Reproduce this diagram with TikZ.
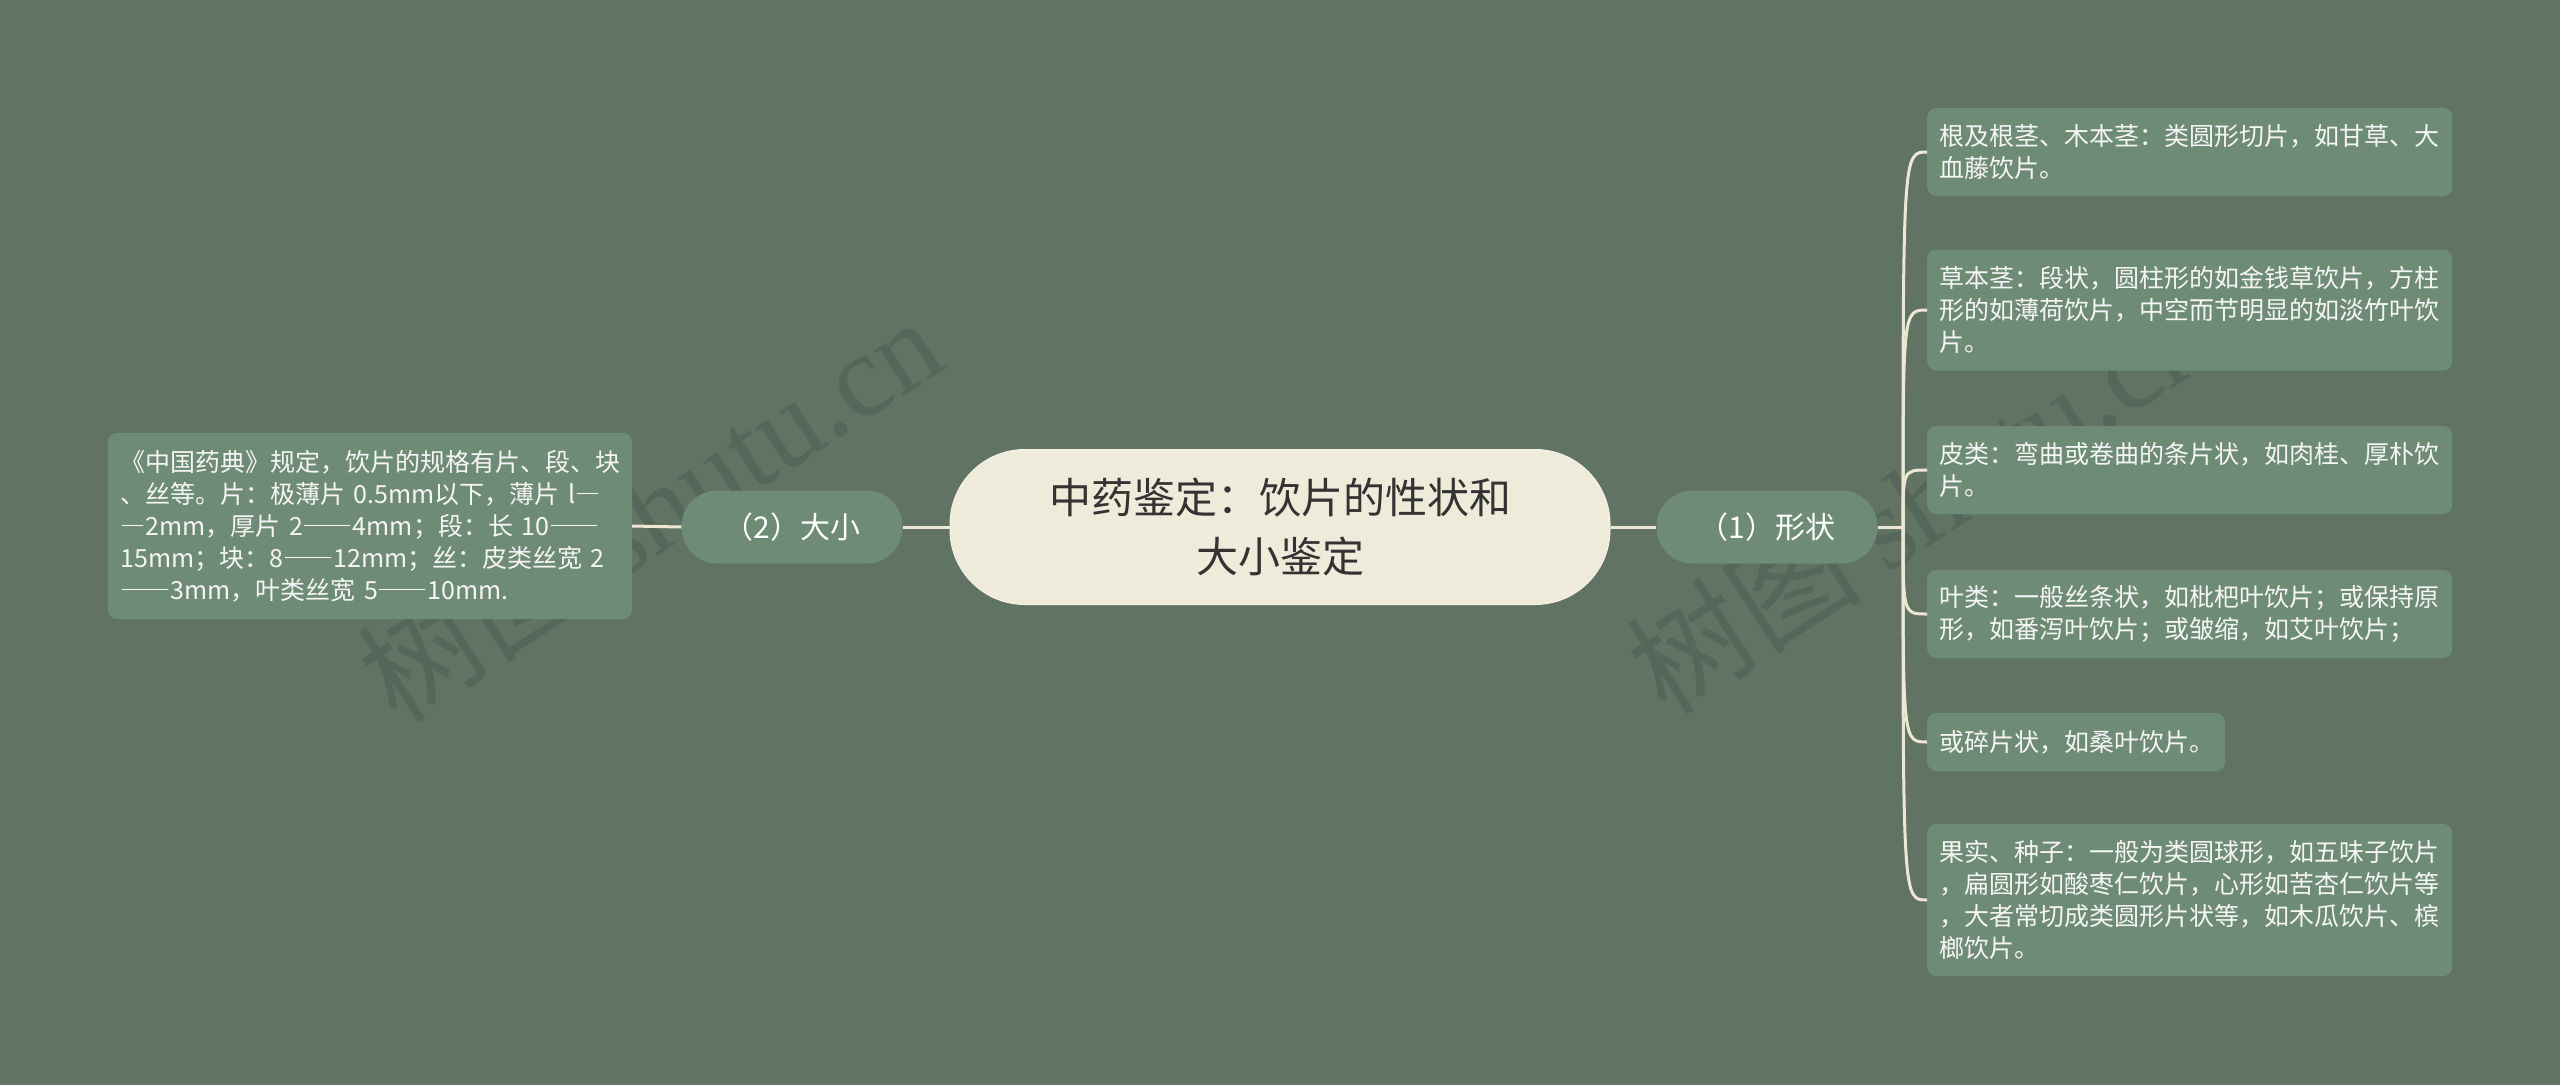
\documentclass[tikz,border=0pt]{standalone}
\usepackage{fontspec}
\setmainfont{Noto Sans CJK SC}
\newfontfamily\markfont{Liberation Serif}
\newcommand\fwd[1]{{\addfontfeature{RawFeature=+fwid}#1}}
\definecolor{bgcol}{HTML}{617463}
\definecolor{leafcol}{HTML}{6E8B75}
\definecolor{titlecol}{HTML}{EFEBDA}
\definecolor{linecol}{HTML}{EDE8D3}
\definecolor{markcol}{HTML}{55665A}

\begin{document}
\begin{tikzpicture}[x=1pt,y=-1pt,
  title/.style={fill=titlecol,draw=titlecol!60!white,line width=1pt,rounded corners=75pt,
    minimum width=660pt,minimum height=155pt,align=center,text=black!80,
    font=\fontsize{42}{59}\selectfont},
  branch/.style={fill=leafcol,rounded corners=36pt,minimum width=221pt,minimum height=73pt,
    text=white,font=\fontsize{30}{36}\selectfont},
  leaf/.style={fill=leafcol,rounded corners=9pt,inner xsep=12.5pt,inner ysep=0pt,
    text width=500pt,align=left,text=white!96!black,font=\fontsize{25}{32}\selectfont},
  link/.style={draw=linecol,line width=3pt}]
\fill[bgcol] (0,0) rectangle (2560,1085);
\useasboundingbox (0,0) rectangle (2560,1085);
% watermarks
\foreach \wx/\wy in {649/508,1918/500}
\node[rotate=33,text=markcol,font=\fontsize{118}{120}\selectfont] (mark\wx) at (\wx,\wy) {树图 {\markfont shutu.cn}};
% centre and branches
\node[title] (root) at (1280,527) {中药鉴定：饮片的性状和\\大小鉴定};
\node[branch] (size) at (792,527) {（2）大小};
\node[branch] (shape) at (1767,527) {（1）形状};
\node[leaf,minimum height=186pt,text width=499pt] (sizeinfo) at (370,526) {《中国药典》规定，饮片的规格有片、段、块\\、丝等。片：极薄片 0.5mm以下，薄片 l\fwd{—}\\\fwd{—}2mm，厚片 2\fwd{——}4mm；段：长 10\fwd{——}\\15mm；块：8\fwd{——}12mm；丝：皮类丝宽 2\\\fwd{——}3mm，叶类丝宽 5\fwd{——}10mm.};
\node[leaf,anchor=west,minimum height=88pt] (root1) at (1927,152) {根及根茎、木本茎：类圆形切片，如甘草、大\\血藤饮片。};
\node[leaf,anchor=west,minimum height=121pt] (herb) at (1927,310) {草本茎：段状，圆柱形的如金钱草饮片，方柱\\形的如薄荷饮片，中空而节明显的如淡竹叶饮\\片。};
\node[leaf,anchor=west,minimum height=88pt] (bark) at (1927,470) {皮类：弯曲或卷曲的条片状，如肉桂、厚朴饮\\片。};
\node[leaf,anchor=west,minimum height=88pt] (leaves) at (1927,614) {叶类：一般丝条状，如枇杷叶饮片；或保持原\\形，如番泻叶饮片；或皱缩，如艾叶饮片；};
\node[leaf,anchor=west,minimum height=58pt,text width=273pt] (pieces) at (1927,742) {或碎片状，如桑叶饮片。};
\node[leaf,anchor=west,minimum height=152pt] (fruit) at (1927,900) {果实、种子：一般为类圆球形，如五味子饮片\\，扁圆形如酸枣仁饮片，心形如苦杏仁饮片等\\，大者常切成类圆形片状等，如木瓜饮片、槟\\榔饮片。};
% connectors
\draw[link] (root.west) -- (size.east);
\draw[link] (size.west) -- (sizeinfo.east);
\draw[link] (root.east) -- (shape.west);
\coordinate (fork) at (1903,527);
\draw[link] (shape.east) -- (fork);
\foreach \n in {root1,herb,bark,leaves,pieces,fruit}
\draw[link] (fork) .. controls (fork |- \n.west) .. (\n.west);
\end{tikzpicture}
\end{document}
